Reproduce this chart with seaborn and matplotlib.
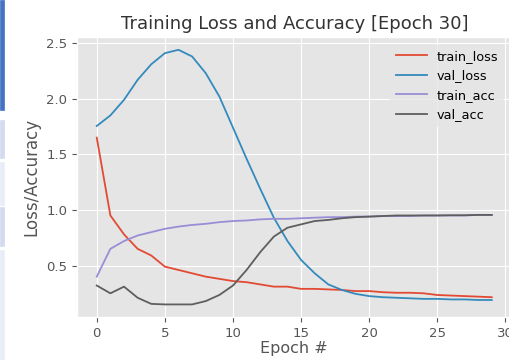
import numpy as np
import pandas as pd
import seaborn as sns
import matplotlib.pyplot as plt
from matplotlib.patches import Rectangle

plt.style.use('ggplot')

epochs = list(range(30))
train_loss = [1.65, 0.95, 0.78, 0.65, 0.59, 0.49, 0.46, 0.43, 0.40, 0.38,
              0.36, 0.35, 0.33, 0.31, 0.31, 0.29, 0.29, 0.285, 0.28, 0.27,
              0.27, 0.26, 0.255, 0.255, 0.25, 0.235, 0.23, 0.225, 0.22, 0.215]
val_loss = [1.755, 1.85, 1.99, 2.17, 2.31, 2.41, 2.44, 2.38, 2.23, 2.02,
            1.74, 1.46, 1.19, 0.93, 0.72, 0.55, 0.43, 0.33, 0.28, 0.245,
            0.225, 0.215, 0.21, 0.205, 0.2, 0.2, 0.195, 0.195, 0.19, 0.19]
train_acc = [0.40, 0.65, 0.72, 0.77, 0.80, 0.83, 0.85, 0.865, 0.875, 0.89,
             0.90, 0.905, 0.915, 0.92, 0.92, 0.925, 0.93, 0.935, 0.935, 0.94,
             0.94, 0.945, 0.945, 0.945, 0.95, 0.95, 0.95, 0.95, 0.955, 0.955]
val_acc = [0.32, 0.25, 0.31, 0.21, 0.155, 0.15, 0.15, 0.15, 0.18, 0.235,
           0.32, 0.46, 0.62, 0.76, 0.84, 0.87, 0.90, 0.91, 0.925, 0.935,
           0.94, 0.945, 0.95, 0.95, 0.95, 0.95, 0.952, 0.952, 0.955, 0.955]

df = pd.DataFrame({'epoch': epochs, 'train_loss': train_loss, 'val_loss': val_loss,
                   'train_acc': train_acc, 'val_acc': val_acc})
long_df = df.melt(id_vars='epoch', var_name='series', value_name='value')

fig = plt.figure(figsize=(5.1, 3.6), dpi=100)
ax = fig.add_axes([0.151, 0.119, 0.852, 0.778])

# left-side UI strip seen in the screenshot
fig.patches.append(Rectangle((0, 250/360), 4/510, 110/360, transform=fig.transFigure,
                             color='#4472C4', zorder=-1))
for y0, y1, c in [(120, 158, '#D4DBEF'), (162, 205, '#E9EDF8'), (207, 246, '#D4DBEF'),
                  (250, 360, '#E9EDF8')]:
    fig.patches.append(Rectangle((0, 1 - y1/360), 4/510, (y1 - y0)/360,
                                 transform=fig.transFigure, color=c, zorder=-1))

palette = ['#E24A33', '#348ABD', '#988ED5', '#5e5e5e']
sns.lineplot(data=long_df, x='epoch', y='value', hue='series', palette=palette,
             linewidth=1.3, ax=ax)

ax.set_title('Training Loss and Accuracy [Epoch 30]', fontsize=13, color='#333333')
ax.set_xlabel('Epoch #', fontsize=11.5, labelpad=1)
ax.set_ylabel('Loss/Accuracy', fontsize=12)
ax.set_xticks([0, 5, 10, 15, 20, 25, 30])
ax.set_yticks([0.5, 1.0, 1.5, 2.0, 2.5])
ax.set_xlim(-1.45, 30.45)
ax.tick_params(labelsize=9.5)
leg = ax.legend(loc='upper right', fontsize=9.3, title=None, handlelength=2.4,
                frameon=True, borderaxespad=0.6)
leg.get_frame().set_edgecolor('none')

fig.savefig('out.png', dpi=100)
